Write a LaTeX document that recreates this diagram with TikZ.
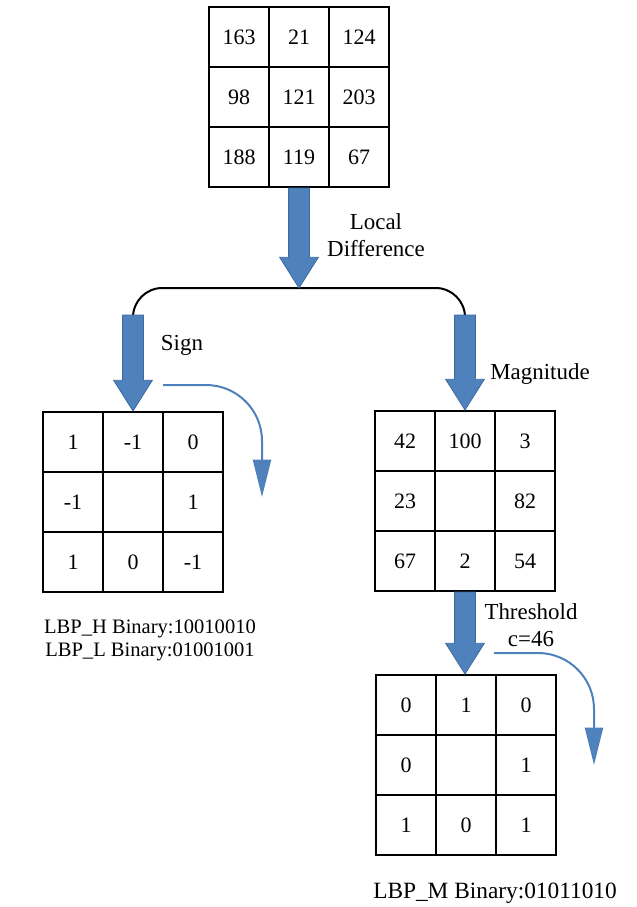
\documentclass[tikz,border=0pt]{standalone}
\usepackage{fontspec}
\setmainfont{Liberation Serif}
\usetikzlibrary{calc,arrows.meta}

\definecolor{lbpblue}{HTML}{4F81BD}
\definecolor{lbpedge}{HTML}{3D6B9E}

% 3x3 block of cells: name, x and y of the first cell, values
\newcommand\lbpgrid[4]{%
  \foreach \v [count=\k from 0] in {#4} {
    \pgfmathtruncatemacro\cellrow{\k/3}
    \pgfmathtruncatemacro\cellcol{mod(\k,3)}
    \node[cell] (#1\k) at ({#2+60*\cellcol},{#3+60*\cellrow}) {\v};
  }}

% thick block arrow from #1 down to #2
\newcommand\fatarrow[2]{%
  \filldraw[fatarrow] let \p1=(#1), \p2=(#2) in
    (\x1-7.8pt,\y1) -- (\x1+7.8pt,\y1) -- (\x1+7.8pt,\y2+23pt) -- (\x1+14.5pt,\y2+23pt)
    -- (\x1,\y2) -- (\x1-14.5pt,\y2+23pt) -- (\x1-7.8pt,\y2+23pt) -- cycle;}

\begin{document}
\begin{tikzpicture}[x=0.75pt,y=-0.75pt,
  cell/.style={draw, line width=1.5pt, minimum size=45pt, inner sep=0pt,
    font=\fontsize{16.5}{18}\selectfont},
  txt/.style={inner sep=0pt, font=\fontsize{17.2}{20.5}\selectfont},
  fatarrow/.style={fill=lbpblue, draw=lbpedge, line width=0.6pt},
  bendarrow/.style={draw=lbpblue, line width=1.5pt, rounded corners=42pt,
    -{Triangle[length=28pt,width=13.5pt]}}]

\useasboundingbox (0,0) rectangle (636,907);

% grids
\lbpgrid{top}{239}{37}{163,21,124,98,121,203,188,119,67}
\lbpgrid{sgn}{73}{442}{1,-1,0,-1,{},1,1,0,-1}
\lbpgrid{mag}{405}{441}{42,100,3,23,{},82,67,2,54}
\lbpgrid{thr}{406}{705}{0,1,0,0,{},1,1,0,1}

% split
\coordinate (split) at (299,288);
\coordinate (lfoot) at (133,315);
\coordinate (rfoot) at (465,315);
\draw[line width=1.5pt, rounded corners=22pt] (lfoot) |- (split) -| (rfoot);

\fatarrow{top7.south}{split}
\fatarrow{lfoot}{sgn1.north}
\fatarrow{rfoot}{mag1.north}
\fatarrow{mag7.south}{thr1.north}

% bent arrows
\coordinate (sgnout) at (163,385);
\coordinate (sgnend) at (262,497);
\draw[bendarrow] (sgnout) -| (sgnend);
\coordinate (throut) at (494,653);
\coordinate (thrend) at (594,765);
\draw[bendarrow] (throut) -| (thrend);

% labels
\node[txt, align=center] (diff) at (376,235) {Local\\Difference};
\node[txt, anchor=base] (sign) at (182,350) {Sign};
\node[txt, anchor=base] (magn) at (540,379) {Magnitude};
\node[txt, align=center] (thresh) at (531,625) {Threshold\\c=46};
\node[txt, align=center, font=\fontsize{15.4}{17.3}\selectfont] (codehl) at (150,640)
  {LBP\_H Binary:10010010\\LBP\_L Binary:01001001};
\node[txt, font=\fontsize{17.5}{20}\selectfont] (codem) at (495,893) {LBP\_M Binary:01011010};

\end{tikzpicture}
\end{document}
